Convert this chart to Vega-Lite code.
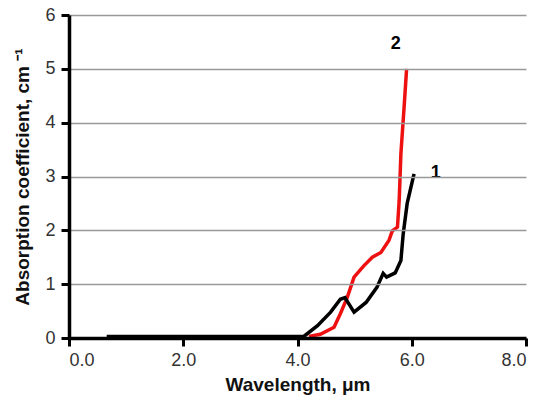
{
  "$schema": "https://vega.github.io/schema/vega-lite/v6.json",
  "autosize": "none",
  "width": 457,
  "height": 323,
  "padding": {"left": 69, "top": 15, "right": 17, "bottom": 65},
  "background": "white",
  "config": {
    "view": {"stroke": null},
    "font": "Liberation Sans"
  },
  "datasets": {
    "curves": [
      {"wl": 0.66, "k": 0.03, "s": "1"},
      {"wl": 4.11, "k": 0.03, "s": "1"},
      {"wl": 4.35, "k": 0.23, "s": "1"},
      {"wl": 4.58, "k": 0.48, "s": "1"},
      {"wl": 4.75, "k": 0.72, "s": "1"},
      {"wl": 4.83, "k": 0.75, "s": "1"},
      {"wl": 4.99, "k": 0.48, "s": "1"},
      {"wl": 5.2, "k": 0.66, "s": "1"},
      {"wl": 5.39, "k": 0.94, "s": "1"},
      {"wl": 5.5, "k": 1.2, "s": "1"},
      {"wl": 5.56, "k": 1.13, "s": "1"},
      {"wl": 5.71, "k": 1.21, "s": "1"},
      {"wl": 5.81, "k": 1.44, "s": "1"},
      {"wl": 5.85, "k": 1.93, "s": "1"},
      {"wl": 5.92, "k": 2.5, "s": "1"},
      {"wl": 6.04, "k": 3.05, "s": "1"},
      {"wl": 4.2, "k": 0.03, "s": "2"},
      {"wl": 4.4, "k": 0.07, "s": "2"},
      {"wl": 4.64, "k": 0.2, "s": "2"},
      {"wl": 4.75, "k": 0.45, "s": "2"},
      {"wl": 4.87, "k": 0.75, "s": "2"},
      {"wl": 4.99, "k": 1.13, "s": "2"},
      {"wl": 5.16, "k": 1.34, "s": "2"},
      {"wl": 5.31, "k": 1.5, "s": "2"},
      {"wl": 5.46, "k": 1.59, "s": "2"},
      {"wl": 5.6, "k": 1.81, "s": "2"},
      {"wl": 5.66, "k": 1.99, "s": "2"},
      {"wl": 5.75, "k": 2.06, "s": "2"},
      {"wl": 5.78, "k": 2.55, "s": "2"},
      {"wl": 5.81, "k": 3.42, "s": "2"},
      {"wl": 5.87, "k": 4.35, "s": "2"},
      {"wl": 5.91, "k": 5.0, "s": "2"}
    ],
    "labels": [
      {"wl": 5.72, "k": 5.47, "t": "2"},
      {"wl": 6.42, "k": 3.07, "t": "1"}
    ]
  },
  "layer": [
    {
      "data": {"name": "curves"},
      "transform": [{"filter": "datum.s == '2'"}],
      "mark": {"type": "line", "color": "#ee1111", "strokeWidth": 3.5, "clip": false},
      "encoding": {
        "x": {
          "field": "wl", "type": "quantitative",
          "scale": {"domain": [0, 8], "nice": false},
          "axis": {
            "values": [0, 2, 4, 6, 8], "format": ".1f", "grid": false, "zindex": 1,
            "title": "Wavelength, μm",
            "domainColor": "black", "domainWidth": 3.5,
            "ticks": true, "tickColor": "black", "tickWidth": 3, "tickSize": 8,
            "labelFont": "Liberation Sans", "labelFontSize": 18, "labelColor": "#333333", "labelPadding": 5,
            "titleFont": "Liberation Sans", "titleFontSize": 19, "titleFontWeight": "bold", "titleColor": "#111111", "titlePadding": 6
          }
        },
        "y": {
          "field": "k", "type": "quantitative",
          "scale": {"domain": [0, 6], "nice": false},
          "axis": {
            "values": [0, 1, 2, 3, 4, 5, 6], "format": "d", "grid": true, "gridColor": "#999999", "gridWidth": 1.5, "zindex": 1,
            "title": "Absorption coefficient, cm ⁻¹",
            "domainColor": "black", "domainWidth": 3.5,
            "ticks": true, "tickColor": "black", "tickWidth": 3, "tickSize": 8,
            "labelFont": "Liberation Sans", "labelFontSize": 18, "labelColor": "#333333", "labelPadding": 6,
            "titleFont": "Liberation Sans", "titleFontSize": 19, "titleFontWeight": "bold", "titleColor": "#111111", "titlePadding": 12
          }
        }
      }
    },
    {
      "data": {"name": "curves"},
      "transform": [{"filter": "datum.s == '1'"}],
      "mark": {"type": "line", "color": "black", "strokeWidth": 3.5, "clip": false},
      "encoding": {
        "x": {"field": "wl", "type": "quantitative"},
        "y": {"field": "k", "type": "quantitative"}
      }
    },
    {
      "data": {"name": "labels"},
      "mark": {"type": "text", "fontSize": 18, "fontWeight": "bold", "font": "Liberation Sans", "color": "black"},
      "encoding": {
        "x": {"field": "wl", "type": "quantitative"},
        "y": {"field": "k", "type": "quantitative"},
        "text": {"field": "t"}
      }
    }
  ]
}
